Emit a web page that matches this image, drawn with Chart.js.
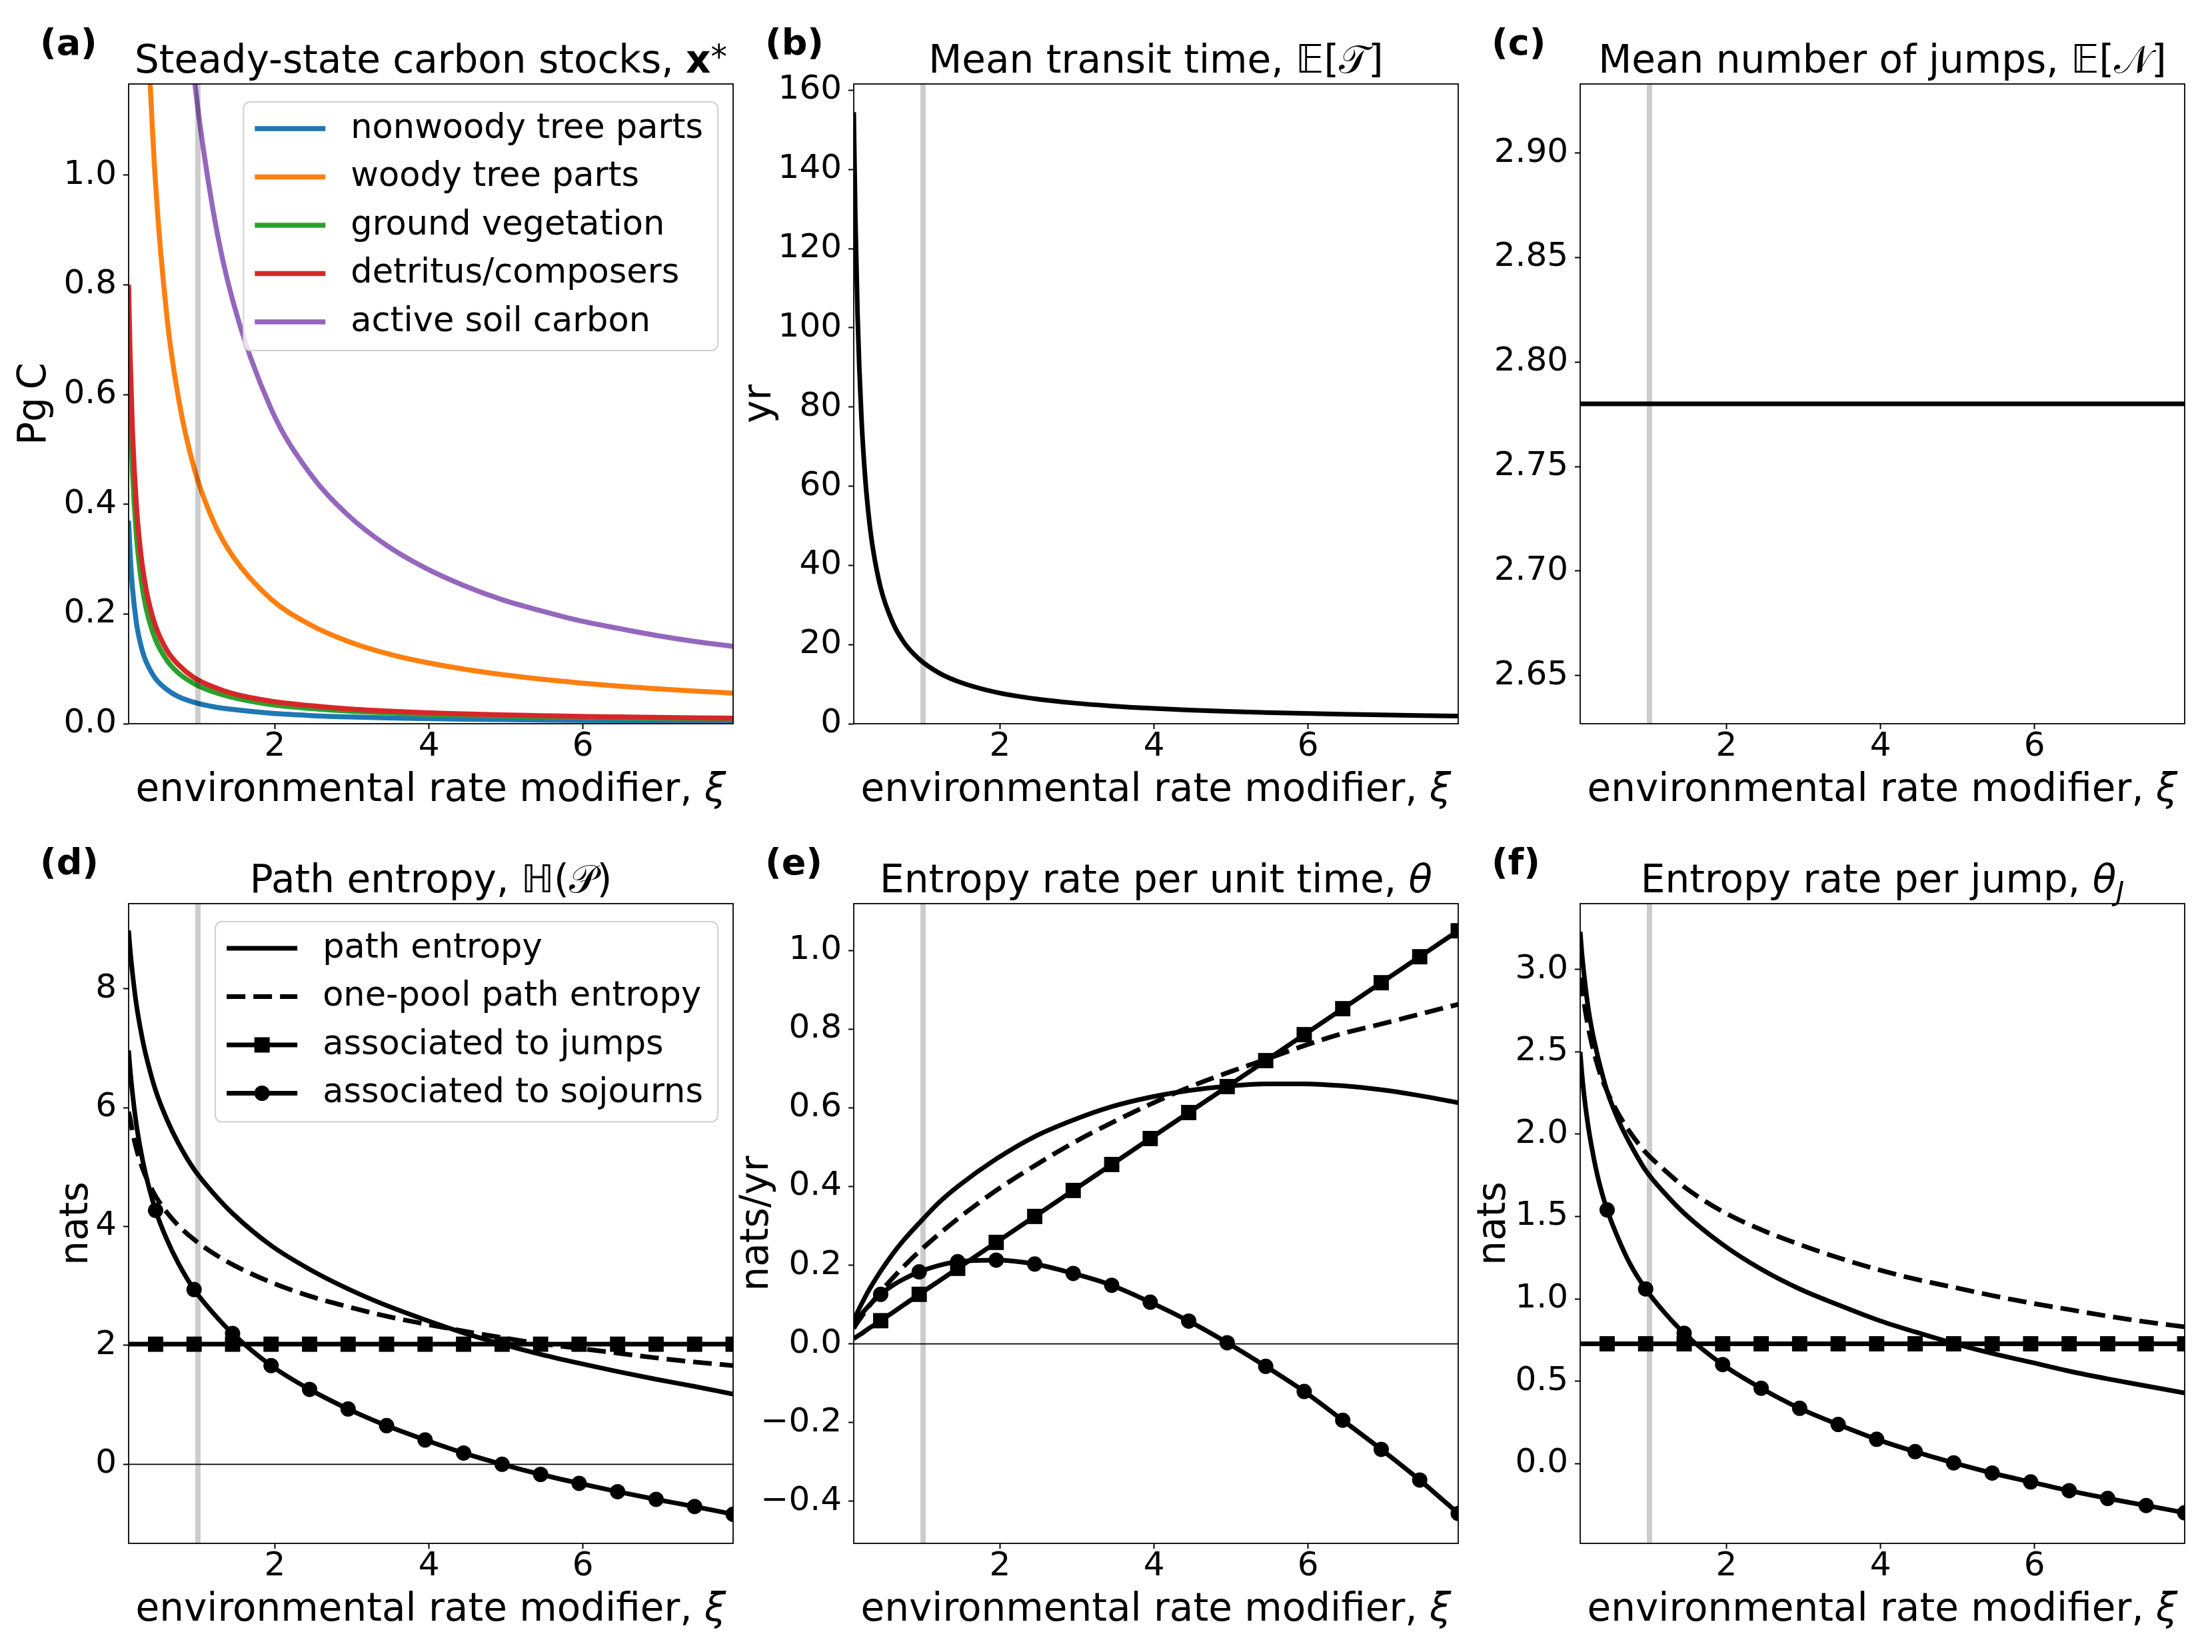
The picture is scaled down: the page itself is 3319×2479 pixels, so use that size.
<!DOCTYPE html>
<html><head><meta charset="utf-8">
<script src="https://cdn.jsdelivr.net/npm/chart.js@4.4.1/dist/chart.umd.min.js"></script>
<style>
html,body{margin:0;padding:0;background:#fff;width:3319px;height:2479px;overflow:hidden;position:relative;}
canvas{position:absolute;}
</style></head><body>
<script>
// ---------------- data ----------------
const xi = [0.1, 0.12, 0.15, 0.2, 0.25, 0.3, 0.35, 0.45, 0.6, 0.75, 0.95, 1.2, 1.45, 1.95, 2.45, 2.95, 3.45, 3.95, 4.45, 4.95, 5.45, 5.95, 6.45, 6.95, 7.45, 7.95];
const markerXi = [0.45, 0.95, 1.45, 1.95, 2.45, 2.95, 3.45, 3.95, 4.45, 4.95, 5.45, 5.95, 6.45, 6.95, 7.45, 7.95];
const xTickVals = [2, 4, 6];
const xTickLabels = ['2', '4', '6'];

// (a) steady-state carbon stocks [PgC]
const poolLabels = ['nonwoody tree parts', 'woody tree parts', 'ground vegetation', 'detritus/composers', 'active soil carbon'];
const stockNonwoody = [0.370, 0.308, 0.247, 0.185, 0.148, 0.123, 0.106, 0.082, 0.062, 0.049, 0.039, 0.031, 0.026, 0.019, 0.015, 0.0125, 0.0107, 0.0094, 0.0083, 0.0075, 0.0068, 0.0062, 0.0057, 0.0053, 0.0050, 0.0047];
const stockWoody = [null, null, null, null, null, 1.48, 1.266, 0.984, 0.738, 0.591, 0.466, 0.369, 0.306, 0.227, 0.181, 0.150, 0.128, 0.112, 0.0996, 0.0895, 0.0813, 0.0745, 0.0687, 0.0637, 0.0595, 0.0557];
const stockGround = [0.690, 0.575, 0.460, 0.345, 0.276, 0.230, 0.197, 0.153, 0.115, 0.092, 0.073, 0.058, 0.048, 0.035, 0.028, 0.023, 0.020, 0.017, 0.0155, 0.0139, 0.0127, 0.0116, 0.0107, 0.0099, 0.0093, 0.0087];
const stockDetritus = [0.800, 0.667, 0.533, 0.400, 0.320, 0.267, 0.229, 0.178, 0.133, 0.107, 0.084, 0.067, 0.055, 0.041, 0.033, 0.027, 0.023, 0.020, 0.018, 0.016, 0.0147, 0.0134, 0.0124, 0.0115, 0.0107, 0.0101];
const stockSoil = [null, null, null, null, null, null, null, null, null, 1.493, 1.179, 0.933, 0.772, 0.574, 0.457, 0.380, 0.325, 0.284, 0.252, 0.226, 0.206, 0.188, 0.174, 0.161, 0.150, 0.141];
const aYTicks = [0, 0.2, 0.4, 0.6, 0.8, 1.0];
const aYLabels = ['0.0', '0.2', '0.4', '0.6', '0.8', '1.0'];

// (b) mean transit time [yr]
const transitTime = [154.5, 128.8, 103.0, 77.3, 61.8, 51.5, 44.1, 34.3, 25.8, 20.6, 16.3, 12.9, 10.7, 7.92, 6.31, 5.24, 4.48, 3.91, 3.47, 3.12, 2.83, 2.60, 2.40, 2.22, 2.07, 1.94];
const bYTicks = [0, 20, 40, 60, 80, 100, 120, 140, 160];
const bYLabels = ['0', '20', '40', '60', '80', '100', '120', '140', '160'];

// (c) mean number of jumps
const jumpsXi = [0.1, 7.95];
const meanJumps = [2.78, 2.78];
const cYTicks = [2.65, 2.70, 2.75, 2.80, 2.85, 2.90];
const cYLabels = ['2.65', '2.70', '2.75', '2.80', '2.85', '2.90'];

// (d) path entropy [nats]
const entropyLabels = ['path entropy', 'one-pool path entropy', 'associated to jumps', 'associated to sojourns'];
const pathEntropy = [8.98, 8.65, 8.26, 7.74, 7.35, 7.02, 6.75, 6.29, 5.79, 5.39, 4.96, 4.56, 4.22, 3.68, 3.28, 2.95, 2.67, 2.43, 2.21, 2.02, 1.85, 1.70, 1.56, 1.43, 1.31, 1.18];
const onePoolEntropy = [5.93, 5.81, 5.59, 5.31, 5.09, 4.91, 4.76, 4.51, 4.23, 4.01, 3.78, 3.55, 3.36, 3.06, 2.83, 2.65, 2.49, 2.36, 2.24, 2.13, 2.03, 1.95, 1.87, 1.79, 1.72, 1.66];
const jumpsEntropy = [2.02, 2.02, 2.02, 2.02, 2.02, 2.02, 2.02, 2.02, 2.02, 2.02, 2.02, 2.02, 2.02, 2.02, 2.02, 2.02, 2.02, 2.02, 2.02, 2.02, 2.02, 2.02, 2.02, 2.02, 2.02, 2.02];
const sojournEntropy = [6.96, 6.63, 6.24, 5.72, 5.33, 5.00, 4.73, 4.27, 3.77, 3.37, 2.94, 2.54, 2.20, 1.66, 1.26, 0.93, 0.65, 0.41, 0.19, 0.00, -0.17, -0.32, -0.46, -0.59, -0.71, -0.84];
const dYTicks = [0, 2, 4, 6, 8];
const dYLabels = ['0', '2', '4', '6', '8'];

// (e) entropy rate per unit time [nats/yr]
const pathRate = [0.059, 0.068, 0.081, 0.101, 0.120, 0.138, 0.154, 0.185, 0.227, 0.264, 0.307, 0.358, 0.400, 0.470, 0.527, 0.569, 0.603, 0.627, 0.644, 0.655, 0.661, 0.661, 0.656, 0.646, 0.631, 0.613];
const onePoolRate = [0.039, 0.046, 0.055, 0.069, 0.083, 0.096, 0.109, 0.133, 0.166, 0.197, 0.235, 0.278, 0.318, 0.390, 0.453, 0.511, 0.562, 0.609, 0.652, 0.689, 0.723, 0.758, 0.789, 0.813, 0.838, 0.863];
const jumpsRate = [0.013, 0.016, 0.020, 0.026, 0.033, 0.040, 0.046, 0.059, 0.079, 0.099, 0.126, 0.159, 0.192, 0.258, 0.324, 0.390, 0.456, 0.522, 0.588, 0.654, 0.720, 0.786, 0.852, 0.918, 0.984, 1.050];
const sojournRate = [0.045, 0.052, 0.061, 0.075, 0.087, 0.098, 0.108, 0.126, 0.148, 0.165, 0.183, 0.199, 0.209, 0.213, 0.203, 0.179, 0.149, 0.106, 0.058, 0.003, -0.057, -0.121, -0.194, -0.268, -0.346, -0.431];
const eYTicks = [-0.4, -0.2, 0, 0.2, 0.4, 0.6, 0.8, 1.0];
const eYLabels = ['\u22120.4', '\u22120.2', '0.0', '0.2', '0.4', '0.6', '0.8', '1.0'];

// (f) entropy rate per jump [nats]
const pathJumpRate = [3.23, 3.11, 2.97, 2.78, 2.64, 2.53, 2.43, 2.26, 2.08, 1.94, 1.78, 1.64, 1.52, 1.33, 1.18, 1.06, 0.964, 0.874, 0.799, 0.730, 0.669, 0.615, 0.561, 0.514, 0.471, 0.428];
const onePoolJumpRate = [2.95, 2.91, 2.80, 2.66, 2.55, 2.46, 2.38, 2.26, 2.12, 2.01, 1.89, 1.78, 1.68, 1.53, 1.42, 1.33, 1.25, 1.18, 1.12, 1.07, 1.02, 0.975, 0.935, 0.895, 0.86, 0.83];
const jumpsJumpRate = [0.727, 0.727, 0.727, 0.727, 0.727, 0.727, 0.727, 0.727, 0.727, 0.727, 0.727, 0.727, 0.727, 0.727, 0.727, 0.727, 0.727, 0.727, 0.727, 0.727, 0.727, 0.727, 0.727, 0.727, 0.727, 0.727];
const sojournJumpRate = [2.50, 2.38, 2.24, 2.06, 1.92, 1.80, 1.70, 1.54, 1.36, 1.21, 1.06, 0.914, 0.791, 0.601, 0.457, 0.335, 0.237, 0.147, 0.072, 0.004, -0.058, -0.112, -0.165, -0.212, -0.255, -0.299];
const fYTicks = [0, 0.5, 1.0, 1.5, 2.0, 2.5, 3.0];
const fYLabels = ['0.0', '0.5', '1.0', '1.5', '2.0', '2.5', '3.0'];

// ---------------- layout / style ----------------
const FONT = '"DejaVu Sans", "Noto Sans", sans-serif';
const XMIN = 0.1, XMAX = 7.95;
const PL = 190, PT = 140, PR = 40, PB = 150;
const PLOT_W = 907, PLOT_H = 960;
const colLeft = [193, 1281, 2371];
const rowTop = [126, 1356];
const LW = 7;
const LABEL_SIZE = 58, TICK_SIZE = 50, LEGEND_SIZE = 51;
const markerSet = new Set(markerXi);
Chart.defaults.font.family = FONT;

function drawRich(ctx, segs, cx, y, size) {
  ctx.save(); ctx.fillStyle = '#000'; ctx.textAlign = 'left'; ctx.textBaseline = 'alphabetic';
  const fontOf = s => `${s.it ? 'italic ' : ''}${s.b ? 'bold ' : ''}${Math.round(size * (s.k || 1))}px ${s.fam || FONT}`;
  let total = 0;
  segs.forEach(s => { ctx.font = fontOf(s); s._w = ctx.measureText(s.t).width; total += s._w; });
  let x = cx - total / 2;
  segs.forEach(s => { ctx.font = fontOf(s); ctx.fillText(s.t, x, y + (s.dy || 0) * size); x += s._w; });
  ctx.restore();
}

function drawLegend(ctx, a, items) {
  const size = LEGEND_SIZE;
  ctx.save();
  ctx.font = `${size}px ${FONT}`;
  const tw = Math.max(...items.map(s => ctx.measureText(s.label).width));
  const padL = 17, hl = 106, gap = 38, padR = 22, row = 72.5, first = 40, last = 43;
  const w = padL + hl + gap + tw + padR, h = first + (items.length - 1) * row + last;
  const x0 = a.right - 23 - w, y0 = a.top + 27;
  ctx.beginPath(); ctx.roundRect(x0, y0, w, h, 10);
  ctx.fillStyle = 'rgba(255,255,255,0.8)'; ctx.fill();
  ctx.strokeStyle = '#d0d0d0'; ctx.lineWidth = 2; ctx.stroke();
  items.forEach((s, i) => {
    const cy = y0 + first + i * row;
    ctx.beginPath(); ctx.setLineDash(s.dash || []); ctx.strokeStyle = s.color; ctx.lineWidth = s.lw || LW;
    ctx.moveTo(x0 + padL, cy); ctx.lineTo(x0 + padL + hl, cy); ctx.stroke(); ctx.setLineDash([]);
    const mx = x0 + padL + hl / 2;
    ctx.fillStyle = s.color;
    if (s.marker === 'rect') ctx.fillRect(mx - 11.5, cy - 11.5, 23, 23);
    else if (s.marker === 'circle') { ctx.beginPath(); ctx.arc(mx, cy, 11.5, 0, 2 * Math.PI); ctx.fill(); }
    ctx.fillStyle = '#000'; ctx.textBaseline = 'alphabetic'; ctx.textAlign = 'left';
    ctx.fillText(s.label, x0 + padL + hl + gap, cy + 0.27 * size);
  });
  ctx.restore();
}

const decorPlugin = {
  id: 'decor',
  afterDatasetsDraw(chart, args, o) {
    const ctx = chart.ctx, a = chart.chartArea;
    ctx.save(); ctx.strokeStyle = '#000'; ctx.lineWidth = 1.8;
    ctx.strokeRect(a.left, a.top, a.right - a.left, a.bottom - a.top); ctx.restore();
    if (o.legend) drawLegend(ctx, a, o.legend);
  },
  afterDraw(chart, args, o) {
    const ctx = chart.ctx, a = chart.chartArea;
    const cx = (a.left + a.right) / 2;
    drawRich(ctx, o.title, cx, a.top - 17, LABEL_SIZE);
    drawRich(ctx, [{t: 'environmental rate modifier, '}, {t: '\u03BE', it: true}], cx, a.bottom + 116, LABEL_SIZE);
    ctx.save(); ctx.fillStyle = '#000'; ctx.font = 'bold 54px ' + FONT; ctx.textAlign = 'left'; ctx.textBaseline = 'alphabetic';
    ctx.fillText(o.panel, a.left - 133, a.top - 44); ctx.restore();
  }
};

function seriesDs(s) {
  const xs = s.xs || xi;
  return {
    label: s.label || '',
    data: xs.map((x, i) => ({x: x, y: s.ys[i]})),
    borderColor: s.color, backgroundColor: s.color,
    borderWidth: s.lw || LW, borderDash: s.dash || [],
    cubicInterpolationMode: 'monotone',
    pointStyle: s.marker || 'circle',
    pointRadius: s.marker ? (c => markerSet.has(xs[c.dataIndex]) ? (s.marker === 'rect' ? 16.2 : 11.5) : 0) : 0,
    pointHoverRadius: 0, pointBorderWidth: 0, pointBackgroundColor: s.color,
    fill: false, clip: 0, order: -(s.z || 1), spanGaps: false
  };
}

function buildPanel(p) {
  const c = document.createElement('canvas');
  const w = PL + PLOT_W + PR, h = PT + PLOT_H + PB;
  c.width = w; c.height = h;
  c.style.left = (colLeft[p.col] - PL) + 'px'; c.style.top = (rowTop[p.row] - PT) + 'px';
  c.style.width = w + 'px'; c.style.height = h + 'px';
  document.body.appendChild(c);

  const datasets = p.series.map((s, i) => seriesDs(Object.assign({z: i + 2}, s)));
  // grey reference line at xi = 1 (translucent, drawn on top)
  datasets.push({data: [{x: 1, y: p.yMin}, {x: 1, y: p.yMax}], borderColor: 'rgba(0,0,0,0.2)', borderWidth: 8,
    pointRadius: 0, clip: 0, order: -100, fill: false});
  if (p.zero) datasets.push({data: [{x: XMIN, y: 0}, {x: XMAX, y: 0}], borderColor: '#000', borderWidth: 1.8,
    pointRadius: 0, clip: 0, order: 50, fill: false});

  const tickFont = {family: FONT, size: TICK_SIZE};
  const grid = {drawOnChartArea: false, drawTicks: true, tickLength: 8, tickWidth: 2, tickColor: '#000', color: '#000'};
  new Chart(c, {
    type: 'line',
    data: {datasets},
    plugins: [decorPlugin],
    options: {
      responsive: false, animation: false, devicePixelRatio: 1, events: [],
      layout: {padding: {left: 0, top: PT, right: PR, bottom: 0}},
      plugins: {
        legend: {display: false}, tooltip: {enabled: false},
        decor: {title: p.title, panel: p.panel, legend: p.legend}
      },
      scales: {
        x: {
          type: 'linear', min: XMIN, max: XMAX,
          afterBuildTicks: ax => { ax.ticks = xTickVals.map(v => ({value: v})); },
          afterFit: ax => { ax.height = PB; },
          ticks: {font: tickFont, color: '#000', padding: -3, autoSkip: false, maxRotation: 0,
            callback: v => xTickLabels[xTickVals.indexOf(v)]},
          grid: grid, border: {display: false}
        },
        y: {
          type: 'linear', min: p.yMin, max: p.yMax,
          afterBuildTicks: ax => { ax.ticks = p.yTicks.map(v => ({value: v})); },
          afterFit: ax => { ax.width = PL; },
          ticks: {font: tickFont, color: '#000', padding: 10, autoSkip: false,
            callback: v => p.yLabels[p.yTicks.findIndex(t => Math.abs(t - v) < 1e-9)]},
          grid: grid, border: {display: false},
          title: {display: !!p.ylabel, text: p.ylabel || '', color: '#000', font: {family: FONT, size: LABEL_SIZE},
            padding: {top: PL - p.yd - LABEL_SIZE * 0.6, bottom: 0}}
        }
      }
    }
  });
}

const C = {blue: '#1f77b4', orange: '#ff7f0e', green: '#2ca02c', red: '#d62728', purple: '#9467bd', k: '#000000'};

const seriesA = [
  {label: poolLabels[0], ys: stockNonwoody, color: C.blue, lw: 7.5},
  {label: poolLabels[1], ys: stockWoody, color: C.orange, lw: 7.5},
  {label: poolLabels[2], ys: stockGround, color: C.green, lw: 7.5},
  {label: poolLabels[3], ys: stockDetritus, color: C.red, lw: 7.5},
  {label: poolLabels[4], ys: stockSoil, color: C.purple, lw: 7.5}
];
const entropyStyles = [
  {color: C.k},
  {color: C.k, dash: [28, 12]},
  {color: C.k, marker: 'rect'},
  {color: C.k, marker: 'circle'}
];
const mk = (arr) => arr.map((ys, i) => Object.assign({label: entropyLabels[i], ys: ys}, entropyStyles[i]));

const panels = [
  {col: 0, row: 0, panel: '(a)', yMin: 0, yMax: 1.166, yTicks: aYTicks, yLabels: aYLabels, ylabel: 'Pg\u2009C', yd: 140,
    title: [{t: 'Steady-state carbon stocks, '}, {t: 'x', b: true}, {t: '*', k: 0.85, dy: -0.12}],
    series: seriesA, legend: seriesA},
  {col: 1, row: 0, panel: '(b)', yMin: 0, yMax: 161.6, yTicks: bYTicks, yLabels: bYLabels, ylabel: 'yr', yd: 140,
    title: [{t: 'Mean transit time, '}, {t: '\u{1D53C}[\u{1D4AF}]'}],
    series: [{ys: transitTime, color: C.k}]},
  {col: 2, row: 0, panel: '(c)', yMin: 2.627, yMax: 2.933, yTicks: cYTicks, yLabels: cYLabels, ylabel: '', yd: 140,
    title: [{t: 'Mean number of jumps, '}, {t: '\u{1D53C}[\u{1D4A9}]'}],
    series: [{xs: jumpsXi, ys: meanJumps, color: C.k}]},
  {col: 0, row: 1, panel: '(d)', yMin: -1.33, yMax: 9.43, yTicks: dYTicks, yLabels: dYLabels, ylabel: 'nats', yd: 77, zero: true,
    title: [{t: 'Path entropy, '}, {t: '\u210D(\u{1D4AB})'}],
    series: mk([pathEntropy, onePoolEntropy, jumpsEntropy, sojournEntropy]),
    legend: mk([pathEntropy, onePoolEntropy, jumpsEntropy, sojournEntropy])},
  {col: 1, row: 1, panel: '(e)', yMin: -0.507, yMax: 1.119, yTicks: eYTicks, yLabels: eYLabels, ylabel: 'nats/yr', yd: 144, zero: true,
    title: [{t: 'Entropy rate per unit time, '}, {t: '\u03B8', it: true}],
    series: mk([pathRate, onePoolRate, jumpsRate, sojournRate])},
  {col: 2, row: 1, panel: '(f)', yMin: -0.485, yMax: 3.40, yTicks: fYTicks, yLabels: fYLabels, ylabel: 'nats', yd: 128,
    title: [{t: 'Entropy rate per jump, '}, {t: '\u03B8', it: true}, {t: 'J', it: true, k: 0.7, dy: 0.22}],
    series: mk([pathJumpRate, onePoolJumpRate, jumpsJumpRate, sojournJumpRate])}
];

panels.forEach(buildPanel);
</script>
</body></html>
